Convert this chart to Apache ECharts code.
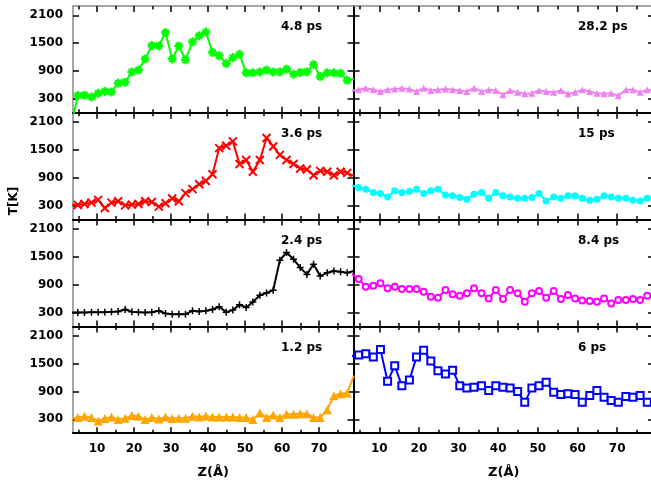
<!DOCTYPE html>
<html><head><meta charset="utf-8">
<script src="https://cdn.jsdelivr.net/npm/echarts@6/dist/echarts.min.js"></script>
<style>html,body{margin:0;padding:0;background:#fff}#c{width:651px;height:486px}</style>
</head><body><div id="c"></div>
<script>
// Z positions (Å)
const Z = [3.0, 4.8, 6.6, 8.5, 10.3, 12.1, 13.9, 15.7, 17.6, 19.4, 21.2, 23.0, 24.8, 26.7, 28.5, 30.3, 32.1, 33.9, 35.8, 37.6, 39.4, 41.2, 43.0, 44.9, 46.7, 48.5, 50.3, 52.1, 54.0, 55.8, 57.6, 59.4, 61.2, 63.1, 64.9, 66.7, 68.5, 70.3, 72.2, 74.0, 75.8, 77.6, 79.4];
// Temperatures T[K]
const T_4_8 = [-300, 372, 380, 340, 420, 460, 450, 640, 660, 880, 920, 1160, 1450, 1440, 1730, 1160, 1440, 1140, 1530, 1660, 1740, 1300, 1230, 1060, 1190, 1260, 860, 860, 880, 920, 880, 880, 940, 830, 870, 880, 1040, 780, 860, 860, 850, 700, 730];
const T_3_6 = [320, 315, 336, 365, 424, 250, 365, 395, 307, 322, 336, 395, 380, 280, 351, 453, 395, 570, 657, 760, 832, 978, 1540, 1590, 1685, 1197, 1284, 1030, 1284, 1758, 1575, 1394, 1284, 1197, 1100, 1080, 956, 1050, 1030, 956, 1030, 1007, 940];
const T_2_4 = [300, 300, 300, 307, 307, 307, 315, 322, 365, 315, 307, 300, 307, 336, 278, 264, 264, 264, 336, 322, 336, 365, 423, 307, 351, 467, 409, 525, 670, 721, 779, 1425, 1592, 1447, 1266, 1120, 1338, 1084, 1157, 1193, 1178, 1157, 1193];
const T_1_2 = [314, 336, 364, 336, 264, 314, 350, 293, 321, 379, 364, 293, 336, 307, 350, 314, 321, 321, 364, 350, 371, 350, 350, 350, 350, 336, 336, 293, 436, 336, 393, 336, 407, 407, 421, 421, 336, 336, 507, 807, 850, 864, 1242];
const T_28_2 = [480, 495, 530, 495, 460, 495, 510, 530, 510, 460, 530, 480, 495, 510, 495, 480, 460, 530, 460, 495, 480, 390, 480, 440, 410, 420, 480, 460, 440, 480, 410, 440, 495, 460, 420, 410, 420, 365, 495, 495, 440, 495, 480];
const T_15 = [740, 692, 656, 583, 561, 489, 620, 583, 605, 656, 561, 620, 656, 532, 511, 474, 438, 547, 583, 460, 583, 511, 489, 460, 460, 474, 561, 402, 489, 460, 511, 511, 460, 416, 438, 511, 489, 460, 460, 416, 402, 460, 489];
const T_8_4 = [1130, 1020, 856, 878, 928, 820, 856, 805, 805, 805, 748, 639, 618, 784, 690, 661, 712, 820, 712, 603, 784, 589, 784, 712, 531, 712, 762, 618, 762, 589, 675, 603, 560, 545, 531, 603, 495, 567, 567, 589, 567, 661, 712];
const T_6 = [1660, 1685, 1713, 1640, 1800, 1117, 1450, 1024, 1145, 1642, 1784, 1557, 1344, 1273, 1358, 1024, 975, 989, 1024, 918, 1024, 989, 975, 896, 669, 975, 1024, 1095, 882, 833, 847, 833, 669, 811, 918, 776, 705, 669, 790, 776, 811, 669, 700];
const panelLabels = ['4.8 ps', '3.6 ps', '2.4 ps', '1.2 ps', '28.2 ps', '15 ps', '8.4 ps', '6 ps'];
const yTicks = [300, 900, 1500, 2100];
const xTicks = [10, 20, 30, 40, 50, 60, 70];
const xMinorTicks = [5, 15, 25, 35, 45, 55, 65, 75];
const xTitle = 'Z(Å)';
const yTitle = 'T[K]';

const seriesData = [T_4_8, T_3_6, T_2_4, T_1_2, T_28_2, T_15, T_8_4, T_6];

// styling / layout
const SYM_STAR = 'path://M5 0L5 10M0 5L10 5M1.6 1.6L8.4 8.4M8.4 1.6L1.6 8.4';
const SYM_X = 'path://M0 0L10 10M10 0L0 10';
const SYM_PLUS = 'path://M5 0L5 10M0 5L10 5';
const styles = [
  {color:'#00ff00', symbol:SYM_STAR, size:9, bw:2.2},
  {color:'#ff0000', symbol:SYM_X, size:8, bw:2},
  {color:'#000000', symbol:SYM_PLUS, size:7, bw:1.5},
  {color:'#ffa500', symbol:'triangle', size:9, bw:0},
  {color:'#ee82ee', symbol:'triangle', size:7, bw:0},
  {color:'#00ffff', symbol:'circle', size:7, bw:0},
  {color:'#ff00ff', symbol:'emptyCircle', size:6, bw:1.8},
  {color:'#0000ff', symbol:'emptyRect', size:7, bw:1.8}
];
const FONT = 'DejaVu Sans';
const colLeft = [73, 353.5], colWidth = [280.5, 300.5];
const rowTop = [6, 112.8, 219.6, 326.4], rowH = 106.8;
const XMIN = 3.5, XMAX = 79.3, YMIN = 0, YMAX = 2300;
const labelStyle = {color:'#000', fontFamily:FONT, fontWeight:'bold', fontSize:12};
const plain = v => String(v);

const grids = [], xAxes = [], yAxes = [], series = [], graphics = [];
for (let i = 0; i < 8; i++) {
  const col = Math.floor(i / 4), row = i % 4;
  grids.push({left: colLeft[col], top: rowTop[row], width: colWidth[col], height: rowH,
              containLabel: false, outerBoundsMode: 'none'});
  const isBottom = row === 3;
  const base = {type:'value', gridIndex:i, min:XMIN, max:XMAX, splitLine:{show:false}};
  // bottom major
  xAxes.push(Object.assign({}, base, {
    position:'bottom',
    axisLine:{show:true, lineStyle:{color:'#000', width:2}},
    axisTick:{show:true, inside:true, length:6, customValues:xTicks, lineStyle:{color:'#000', width:1.5}},
    axisLabel:{show:isBottom, customValues:xTicks, margin:10, formatter:plain, ...labelStyle},
    name: isBottom ? xTitle : '', nameLocation:'middle', nameGap:33,
    nameTextStyle:{color:'#000', fontFamily:FONT, fontWeight:'bold', fontSize:13}
  }));
  // bottom minor
  xAxes.push(Object.assign({}, base, {
    position:'bottom', axisLine:{show:false},
    axisTick:{show:true, inside:true, length:3.5, customValues:xMinorTicks, lineStyle:{color:'#000', width:1.5}},
    axisLabel:{show:false}
  }));
  // top major
  xAxes.push(Object.assign({}, base, {
    position:'top',
    axisLine:{show: row === 0, lineStyle:{color:'#888', width:1.5}},
    axisTick:{show:true, inside:true, length:6, customValues:xTicks, lineStyle:{color:'#000', width:1.5}},
    axisLabel:{show:false}
  }));
  // top minor
  xAxes.push(Object.assign({}, base, {
    position:'top', axisLine:{show:false},
    axisTick:{show:true, inside:true, length:3.5, customValues:xMinorTicks, lineStyle:{color:'#000', width:1.5}},
    axisLabel:{show:false}
  }));
  const ybase = {type:'value', gridIndex:i, min:YMIN, max:YMAX, splitLine:{show:false}};
  yAxes.push(Object.assign({}, ybase, {
    position:'left',
    axisLine:{show:true, lineStyle:{color: col === 0 ? '#888' : '#000', width: col === 0 ? 1.5 : 2}},
    axisTick:{show:true, inside:true, length:6, customValues:yTicks, lineStyle:{color:'#000', width:1.5}},
    axisLabel:{show: col === 0, customValues:yTicks, margin:10, formatter:plain, ...labelStyle}
  }));
  yAxes.push(Object.assign({}, ybase, {
    position:'right',
    axisLine:{show:true, lineStyle:{color:'#000', width:2}},
    axisTick:{show:true, inside:true, length:6, customValues:yTicks, lineStyle:{color:'#000', width:1.5}},
    axisLabel:{show:false}
  }));
  const st = styles[i];
  series.push({
    type:'line', xAxisIndex:4*i, yAxisIndex:2*i,
    data: Z.map((z, j) => [z, seriesData[i][j]]),
    clip:true, showSymbol:true, symbol:st.symbol, symbolSize:st.size,
    lineStyle:{color:st.color, width:2},
    itemStyle:{color:st.color, borderColor:st.color, borderWidth:st.bw},
    emphasis:{disabled:true}, animation:false, z:3
  });
  graphics.push({
    type:'text', left: col === 0 ? 281 : 578, top: rowTop[row] + 15,
    style:{text: panelLabels[i], fill:'#000', font:'bold 12px "DejaVu Sans"'}, z:10
  });
}
graphics.push({
  type:'text', x:14, y:201, rotation:Math.PI/2,
  style:{text:yTitle, fill:'#000', font:'bold 12px "DejaVu Sans"', align:'center', verticalAlign:'middle'}, z:10
});

const chart = echarts.init(document.getElementById('c'), null, {renderer:'canvas'});
chart.setOption({
  animation:false,
  backgroundColor:'#fff',
  grid:grids, xAxis:xAxes, yAxis:yAxes, series:series, graphic:graphics
});
</script></body></html>
